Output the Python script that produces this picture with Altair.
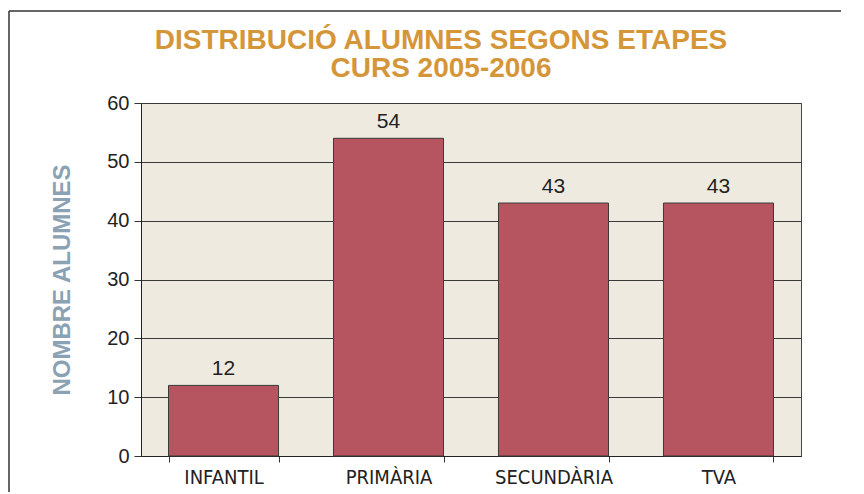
import altair as alt
import pandas as pd

categories = ["INFANTIL", "PRIMÀRIA", "SECUNDÀRIA", "TVA"]
values = [12, 54, 43, 43]
y_ticks = [0, 10, 20, 30, 40, 50, 60]

df = pd.DataFrame({"etapa": categories, "alumnes": values})

base = alt.Chart(df)

x = alt.X("etapa:N", sort=categories, title=None,
          scale=alt.Scale(paddingInner=0.333, paddingOuter=0.1667),
          axis=alt.Axis(labelAngle=0, tickBand="extent", tickSize=6, tickColor="#333",
                        domainColor="#222", labelFont="Liberation Sans Narrow, DejaVu Sans Condensed, sans-serif",
                        labelFontSize=20, labelColor="#222", labelPadding=5))
y = alt.Y("alumnes:Q", title="NOMBRE ALUMNES",
          scale=alt.Scale(domain=[0, 60], nice=False),
          axis=alt.Axis(values=y_ticks, tickSize=7, tickColor="#333", domainColor="#222",
                        gridColor="#3a3a3a", gridWidth=1, labelFontSize=20,
                        labelFont="Liberation Sans Narrow, Liberation Sans, sans-serif",
                        labelColor="#222", labelPadding=5,
                        titleFont="Liberation Sans", titleFontSize=24, titleFontWeight="bold",
                        titleColor="#8BA1B4", titlePadding=32))

bars = base.mark_bar(color="#B6555F", stroke="#3a3a3a", strokeWidth=1).encode(x=x, y=y)
labels = base.mark_text(dy=-16, fontSize=21, font="Liberation Sans", color="#222").encode(
    x=alt.X("etapa:N", sort=categories), y="alumnes:Q", text="alumnes:Q")

frame_data = alt.Data(values=[{"a": 1}])
top_rule = alt.Chart(frame_data).mark_rule(color="#333", strokeWidth=1.5).encode(
    x=alt.value(-132), x2=alt.value(730), y=alt.value(-92))
left_rule = alt.Chart(frame_data).mark_rule(color="#333", strokeWidth=1.5).encode(
    x=alt.value(-132), y=alt.value(-92), y2=alt.value(400))

chart = alt.layer(bars, labels, top_rule, left_rule).properties(
    width=660, height=353,
    autosize=alt.AutoSizeParams(type="none"),
    padding={"left": 133, "top": 95, "right": 40, "bottom": 36},
    background="white",
    title=alt.TitleParams(
        text=["DISTRIBUCIÓ ALUMNES SEGONS ETAPES", "CURS 2005-2006"],
        font="Liberation Sans", fontSize=28, fontWeight="bold", color="#D5963A",
        anchor="middle", dx=-30, dy=87, offset=14, lineHeight=28),
).configure_view(fill="#EEEAE0", stroke="#444", strokeWidth=1)

chart.save("out.html", embed_options={"renderer": "svg", "actions": False})
